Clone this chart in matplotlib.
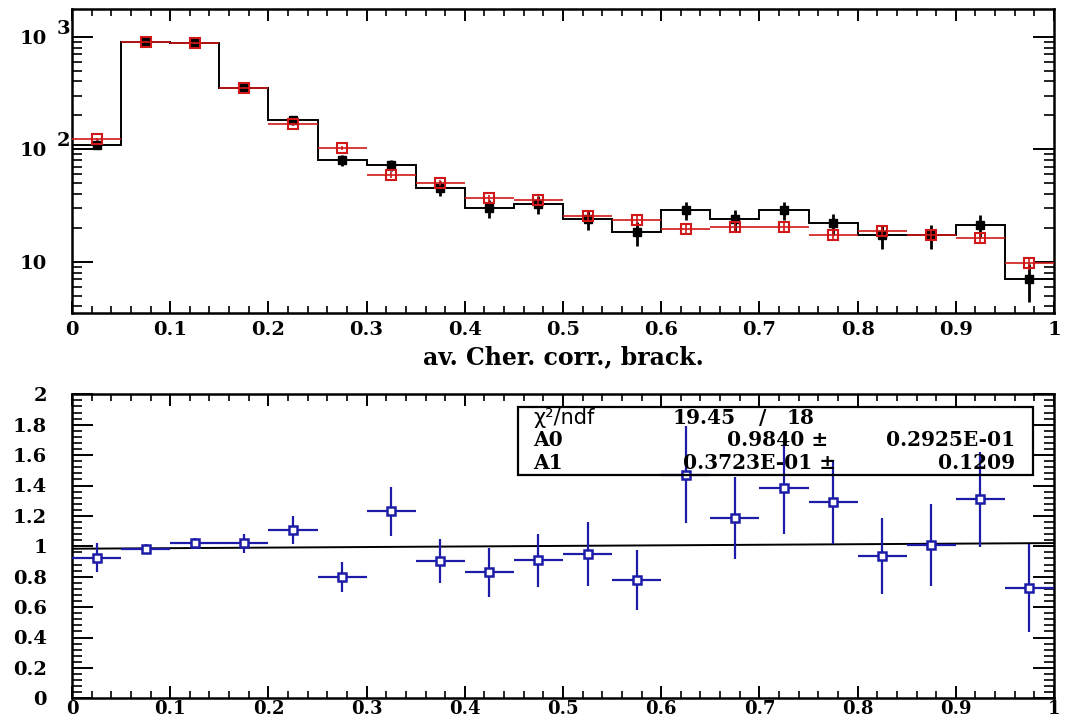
import numpy as np
import matplotlib
matplotlib.use("Agg")
import matplotlib.pyplot as plt
from matplotlib.ticker import MultipleLocator, FixedLocator, LogLocator, NullFormatter, FuncFormatter
from matplotlib.patches import Rectangle

# ---------------- data ----------------
bin_edges = np.linspace(0.0, 1.0, 21)
bin_centers = 0.5 * (bin_edges[:-1] + bin_edges[1:])

data_counts = [110, 900, 880, 350, 181, 80, 72, 45, 30, 32.5,
               24, 18.2, 28.6, 23.8, 28.6, 21.9, 17.1, 17.1, 21.2, 7.0]
data_err = [10.5, 30, 30, 18.7, 13.4, 9, 8.5, 6.7, 5.5, 5.7,
            4.9, 4.3, 5.3, 4.9, 5.3, 4.7, 4.1, 4.1, 4.6, 2.6]
mc_counts = [122, 900, 880, 350, 166, 102, 59, 50, 36.6, 35.3,
             25.5, 23.4, 19.4, 20.5, 20.5, 17.1, 18.7, 17.1, 16.1, 9.7]
mc_err = [4, 12, 12, 7.5, 5, 4, 3.2, 3, 2.5, 2.4,
          2, 1.9, 1.7, 1.8, 1.8, 1.6, 1.7, 1.6, 1.6, 1.2]

ratio = [0.924, 0.981, 1.019, 1.019, 1.106, 0.80, 1.231, 0.905, 0.828, 0.909,
         0.949, 0.778, 1.472, 1.187, 1.384, 1.292, 0.935, 1.008, 1.308, 0.723]
ratio_err = [0.095, 0.033, 0.038, 0.06, 0.093, 0.098, 0.16, 0.146, 0.162, 0.175,
             0.208, 0.197, 0.318, 0.27, 0.30, 0.277, 0.252, 0.272, 0.315, 0.29]

fit_A0 = 0.9840
fit_A1 = 0.03723
chi2_text = "19.45"
ndf_text = "18"
A0_text = "0.9840"
A0_err_text = "0.2925E-01"
A1_text = "0.3723E-01"
A1_err_text = "0.1209"

x_label = "av. Cher. corr., brack."

# ---------------- style ----------------
plt.rcParams['font.family'] = ['DejaVu Serif']
plt.rcParams['font.weight'] = 'bold'
TICKFS = 14
RED = '#d01818'
BLUE = '#1c1ca8'

fig = plt.figure(figsize=(10.69, 7.21), dpi=100)
W, H = 1069.0, 721.0
ax_left, ax_right = 72.0, 1054.0
top_t, top_b = 9.3, 312.7
bot_t, bot_b = 394.3, 698.3

ax1 = fig.add_axes([ax_left / W, 1 - top_b / H, (ax_right - ax_left) / W, (top_b - top_t) / H])
ax2 = fig.add_axes([ax_left / W, 1 - bot_b / H, (ax_right - ax_left) / W, (bot_b - bot_t) / H])

for ax in (ax1, ax2):
    for sp in ax.spines.values():
        sp.set_linewidth(1.8)
    ax.set_xlim(0, 1)
    ax.xaxis.set_major_locator(MultipleLocator(0.1))
    ax.xaxis.set_minor_locator(MultipleLocator(0.02))
    ax.xaxis.set_major_formatter(FuncFormatter(lambda v, p: "%g" % round(v, 2)))
    ax.tick_params(axis='x', which='major', direction='in', length=8.6, width=1.4,
                   top=True, bottom=True, labelsize=TICKFS, pad=6)
    ax.tick_params(axis='x', which='minor', direction='in', length=4.7, width=1.2,
                   top=True, bottom=True)
    ax.tick_params(axis='y', which='major', direction='in', length=14.9, width=1.4,
                   left=True, right=True, labelsize=TICKFS, pad=18)
    ax.tick_params(axis='y', which='minor', direction='in', length=7.2, width=1.2,
                   left=True, right=True)
ax2.tick_params(axis='x', which='major', labelsize=13, pad=1.5)

# ---------------- top panel ----------------
ax1.set_yscale('log')
ax1.set_ylim(3.52, 1752)
ax1.yaxis.set_major_locator(FixedLocator([10, 100, 1000]))
ax1.yaxis.set_major_formatter(FuncFormatter(lambda v, p: "10"))
ax1.yaxis.set_minor_locator(LogLocator(base=10, subs=np.arange(2, 10)))
ax1.yaxis.set_minor_formatter(NullFormatter())
for val, exp in ((1000, "3"), (100, "2")):
    ax1.annotate(exp, xy=(0, val), xycoords=('axes fraction', 'data'),
                 xytext=(-9, 8), textcoords='offset pixels',
                 ha='center', va='center', fontsize=TICKFS, fontweight='bold')

ax1.stairs(data_counts, bin_edges, baseline=None, color='black', linewidth=1.4, zorder=2)
ax1.errorbar(bin_centers, data_counts, yerr=data_err, fmt='s', color='black',
             markersize=6, elinewidth=2.0, capsize=0, zorder=3)
ax1.errorbar(bin_centers, mc_counts, yerr=mc_err, xerr=0.025, fmt='s', color=RED,
             markerfacecolor='none', markeredgecolor=RED, markeredgewidth=1.5,
             markersize=6.5, elinewidth=1.2, capsize=0, zorder=4)

ax1.text(0.5, -(356.7 - top_b) / (top_b - top_t), x_label, transform=ax1.transAxes,
         ha='center', va='center', fontsize=17, fontweight='bold')

# ---------------- bottom panel ----------------
ax2.set_ylim(0, 2)
ax2.yaxis.set_major_locator(MultipleLocator(0.2))
ax2.yaxis.set_minor_locator(MultipleLocator(0.04))
ax2.yaxis.set_major_formatter(FuncFormatter(lambda v, p: "%g" % round(v, 2)))

ax2.plot([0, 1], [fit_A0, fit_A0 + fit_A1], color='black', linewidth=1.4, zorder=2)
ax2.errorbar(bin_centers, ratio, yerr=ratio_err, xerr=0.025, fmt='s', color=BLUE,
             markerfacecolor='white', markeredgecolor=BLUE, markeredgewidth=1.8,
             markersize=6, elinewidth=1.6, capsize=0, zorder=3)

# stats box
hh = bot_b - bot_t
ww = ax_right - ax_left
def fx(px):
    return (px - ax_left) / ww
def fy(py):
    return (bot_b - py) / hh

box = Rectangle((fx(518.3), fy(475.0)), fx(1032.9) - fx(518.3), fy(406.7) - fy(475.0),
                transform=ax2.transAxes, fill=False, edgecolor='black', linewidth=1.6,
                zorder=5, clip_on=False)
ax2.add_patch(box)
SFS = 14.5
r1, r2, r3 = fy(418.0), fy(440.5), fy(463.0)
ax2.text(fx(533), r1, "χ²/ndf", transform=ax2.transAxes, ha='left', va='center',
         fontsize=15, fontweight='normal', family='DejaVu Sans', zorder=6)
ax2.text(fx(673), r1, chi2_text, transform=ax2.transAxes, ha='left', va='center',
         fontsize=SFS, fontweight='bold', zorder=6)
ax2.text(fx(763), r1, "/", transform=ax2.transAxes, ha='center', va='center',
         fontsize=SFS, fontweight='bold', zorder=6)
ax2.text(fx(787), r1, ndf_text, transform=ax2.transAxes, ha='left', va='center',
         fontsize=SFS, fontweight='bold', zorder=6)
ax2.text(fx(533), r2, "A0", transform=ax2.transAxes, ha='left', va='center',
         fontsize=SFS, fontweight='bold', zorder=6)
ax2.text(fx(828), r2, A0_text + " ±", transform=ax2.transAxes, ha='right', va='center',
         fontsize=SFS, fontweight='bold', zorder=6)
ax2.text(fx(1015), r2, A0_err_text, transform=ax2.transAxes, ha='right', va='center',
         fontsize=SFS, fontweight='bold', zorder=6)
ax2.text(fx(533), r3, "A1", transform=ax2.transAxes, ha='left', va='center',
         fontsize=SFS, fontweight='bold', zorder=6)
ax2.text(fx(836), r3, A1_text + " ±", transform=ax2.transAxes, ha='right', va='center',
         fontsize=SFS, fontweight='bold', zorder=6)
ax2.text(fx(1015), r3, A1_err_text, transform=ax2.transAxes, ha='right', va='center',
         fontsize=SFS, fontweight='bold', zorder=6)

fig.savefig("out.png", dpi=100)
